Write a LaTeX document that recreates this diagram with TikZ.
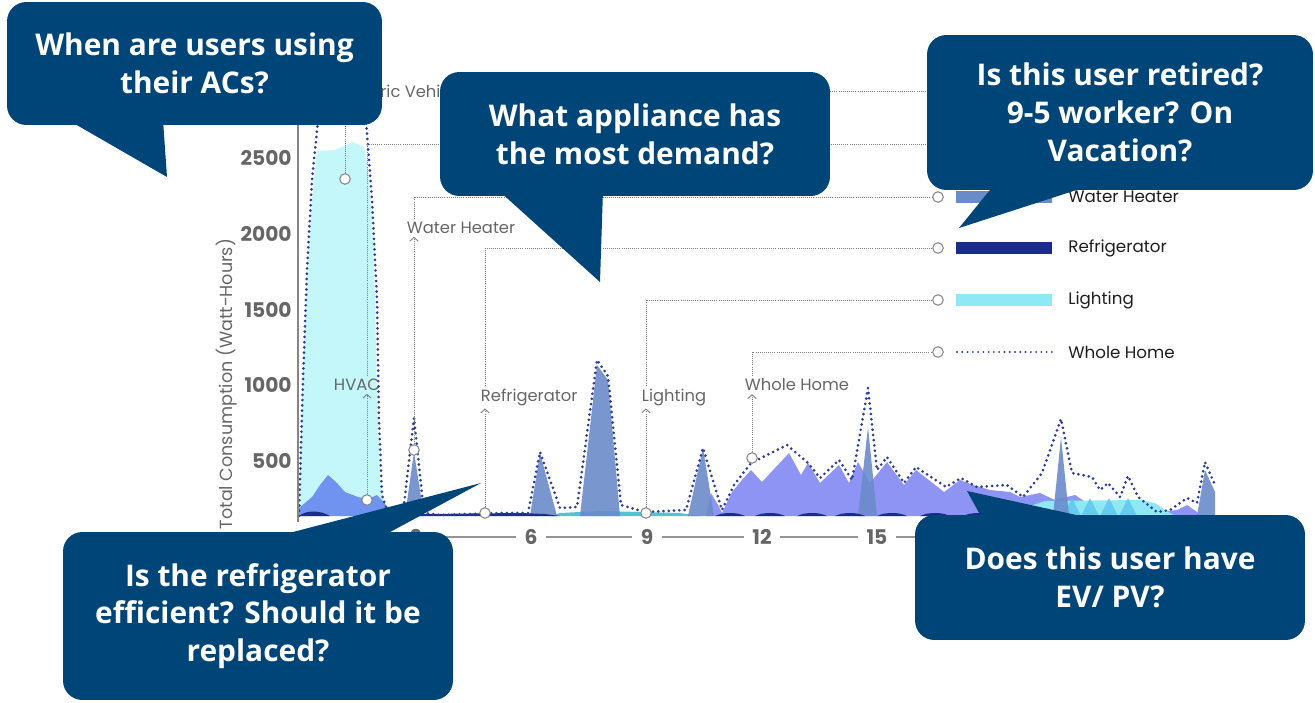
\documentclass[tikz,border=0pt]{standalone}
\usepackage{fontspec}
\setmainfont{Poppins}
\newfontfamily\bubblefont{Open Sans}
\usetikzlibrary{arrows.meta}
\definecolor{qblue}{RGB}{0,69,119}
\definecolor{evcyan}{HTML}{C4F7FA}
\definecolor{hvblue}{HTML}{6F93EE}
\definecolor{whsteel}{HTML}{6A8BCA}
\definecolor{frnavy}{HTML}{1B2D8C}
\definecolor{ltcyan}{HTML}{8FE8F6}
\definecolor{ltdeep}{HTML}{5BC5EE}
\definecolor{ltteal}{HTML}{52C4D0}
\definecolor{otlav}{HTML}{8E94F3}
\definecolor{homedot}{HTML}{2B3B9E}
\definecolor{chgrey}{HTML}{666666}
\definecolor{legblack}{HTML}{1E1E1E}
\begin{document}
\begin{tikzpicture}[x=0.02cm, y=-0.02cm, line join=round, >={Straight Barb[length=2.2pt,width=4.8pt]},
  lbl/.style={font=\fontsize{9.3}{11}\selectfont, text=chgrey, inner sep=1.5pt, anchor=west},
  leg/.style={font=\fontsize{9.5}{11}\selectfont, text=legblack, anchor=west, inner sep=0pt},
  tick/.style={font=\bfseries\fontsize{11.5}{13}\selectfont, text=chgrey},
  mk/.style={circle, draw=chgrey!80, fill=white, line width=0.6pt, inner sep=0pt, minimum size=6pt},
  leader/.style={draw=chgrey!85, line width=0.5pt, dash pattern=on 0.5pt off 0.7pt},
  homeline/.style={draw=homedot, line width=1.7pt, line cap=round, dash pattern=on 0pt off 3pt},
  bubble/.style={fill=qblue, text=white, rounded corners=11pt, align=center, inner sep=0pt,
    font=\bubblefont\bfseries\fontsize{17}{21.5}\selectfont}]
\useasboundingbox (0,0) rectangle (1315,703);
% series
\fill[evcyan] (299,516) -- (300,470) -- (303,380) -- (307,280) -- (312,200) -- (317,151) -- (335,150) -- (353,142) -- (364,147) -- (368,170) -- (372,220) -- (375,300) -- (377,400) -- (380,480) -- (384,505) -- (388,516) -- cycle;
\fill[hvblue] (299,516) -- (299,508) -- (312,497) -- (320,485) -- (328,475) -- (336,482) -- (345,492) -- (358,497) -- (368,499) -- (377,495) -- (384,502) -- (390,512) -- (392,516) -- cycle;
\fill[otlav] (706,516) -- (711,493) -- (718,505) -- (722,513) -- (732,492) -- (742,480) -- (751,470) -- (762,482) -- (789,453) -- (801,475) -- (808,463) -- (820,483) -- (839,465) -- (849,483) -- (858,462) -- (870,483) -- (887,462) -- (904,485) -- (916,470) -- (944,492) -- (960,480) -- (973,485) -- (990,490) -- (1010,492) -- (1020,497) -- (1040,493) -- (1055,500) -- (1075,495) -- (1090,505) -- (1130,505) -- (1160,512) -- (1177,510) -- (1187,505) -- (1197,512) -- (1200,516) -- cycle;
\fill[ltcyan] (1020,516) -- (1030,506) -- (1045,501) -- (1140,500) -- (1155,503) -- (1165,510) -- (1175,516) -- cycle;
\foreach \c in {1072,1090,1109,1128}
  \fill[ltdeep, opacity=0.8] (\c-9,516) -- (\c,498) -- (\c+9,516) -- cycle;
\fill[ltteal] (550,516) -- (560,513) -- (600,511) -- (640,512) -- (680,513) -- (700,516) -- cycle;
\begin{scope}[whsteel, opacity=0.9]
\fill (405,516) -- (414,452) -- (424,516) -- cycle;
\fill (530,516) -- (540,453) -- (557,516) -- cycle;
\fill (580,516) -- (597,365) -- (608,380) -- (620,516) -- cycle;
\fill (688,516) -- (703,448) -- (714,516) -- cycle;
\fill (858,516) -- (868,427) -- (877,516) -- cycle;
\fill (1053,516) -- (1061,437) -- (1069,516) -- cycle;
\fill (1197,516) -- (1205,470) -- (1215,492) -- (1215,516) -- cycle;
\end{scope}
\fill[frnavy] (299,516) .. controls (306,510) and (320,510) .. (330,516) -- cycle;
\fill[frnavy] (388,516) -- (395,514) -- (430,514) -- (470,513.5) -- (520,513) -- (545,514) -- (560,516) -- cycle;
\foreach \c in {730,770,812,850,892,935,978}
  \fill[frnavy] (\c-15,516) .. controls (\c-7,512) and (\c+7,512) .. (\c+15,516) -- cycle;
\draw[homeline] (299,516) -- (300,480) -- (303,380) -- (307,270) -- (312,180) -- (318,120) -- (330,100) -- (345,95) -- (358,100) -- (366,120) -- (372,200) -- (377,300) -- (379,420) -- (382,495) -- (387,510) -- (395,515) -- (403,513) -- (414,418) -- (424,513) -- (440,515) -- (470,514) -- (500,513) -- (528,513) -- (540,452) -- (560,508) -- (577,507) -- (597,360) -- (608,376) -- (621,505) -- (645,512) -- (686,510) -- (703,448) -- (722,510) -- (734,485) -- (751,463) -- (787,445) -- (808,463) -- (820,478) -- (839,460) -- (852,480) -- (868,388) -- (877,470) -- (887,457) -- (904,483) -- (916,467) -- (946,487) -- (961,478) -- (977,487) -- (1007,485) -- (1023,497) -- (1042,473) -- (1061,419) -- (1072,473) -- (1092,477) -- (1100,490) -- (1108,483) -- (1120,497) -- (1128,476) -- (1138,497) -- (1157,512) -- (1170,510) -- (1187,498) -- (1197,503) -- (1205,462) -- (1215,485);
% axes
\draw[chgrey!80, line width=0.6pt] (298,110) -- (298,522);
\draw[chgrey!70, line width=0.6pt] (298,537) -- (1225,537);
\foreach \t/\x in {3/416, 6/531, 9/647, 12/762, 15/877}
  \node[tick, fill=white, inner xsep=5pt, inner ysep=1pt] at (\x,537) {\t};
\foreach \v [count=\i] in {500,1000,1500,2000,2500}
  \node[tick, anchor=east, inner sep=0pt] at (292,{461-(\i-1)*75.75}) {\v};
\node[rotate=90, font=\fontsize{10}{12}\selectfont, text=chgrey] at (227,384) {Total Consumption (Watt-Hours)};
% labels and leaders
\node[mk] (evM) at (345,179) {};
\node[lbl] (evL) at (339,91) {Electric Vehicle};
\coordinate (evG) at (938,91);
\draw[leader,->] (evM) -- (evM |- evL.south);
\draw[leader] (evL.east) -- (evG);
\node[mk] (hvM) at (367,500) {};
\node[lbl] (hvL) at (331,385) {HVAC};
\coordinate (hvG) at (938,144);
\draw[leader,->] (hvM) -- (hvM |- hvL.south);
\draw[leader] (hvM |- hvL.north) |- (hvG);
\node[mk] (whM) at (414,450) {};
\node[lbl] (whL) at (404,228) {Water Heater};
\node[mk] (whG) at (938,197) {};
\draw[leader,->] (whM) -- (whM |- whL.south);
\draw[leader] (whM |- whL.north) |- (whG);
\node[mk] (frM) at (485,513) {};
\node[lbl] (frL) at (478,397) {Refrigerator};
\node[mk] (frG) at (938,248) {};
\draw[leader,->] (frM) -- (frM |- frL.south);
\draw[leader] (frM |- frL.north) |- (frG);
\node[mk] (ltM) at (646,513) {};
\node[lbl] (ltL) at (639,397) {Lighting};
\node[mk] (ltG) at (938,300) {};
\draw[leader,->] (ltM) -- (ltM |- ltL.south);
\draw[leader] (ltM |- ltL.north) |- (ltG);
\node[mk] (hmM) at (752,458) {};
\node[lbl] (hmL) at (742,385) {Whole Home};
\node[mk] (hmG) at (938,352) {};
\draw[leader,->] (hmM) -- (hmM |- hmL.south);
\draw[leader] (hmM |- hmL.north) |- (hmG);
% legend
\fill[whsteel] (956,191) rectangle (1052,203);
\fill[frnavy] (956,242) rectangle (1052,254);
\fill[ltcyan] (956,294) rectangle (1052,306);
\draw[homeline, line width=1.2pt, dash pattern=on 0pt off 3pt] (957,352) -- (1052,352);
\node[leg] at (1068,197) {Water Heater};
\node[leg] at (1068,248) {Refrigerator};
\node[leg] at (1068,300) {Lighting};
\node[leg] at (1068,352) {Whole Home};
% questions
\node[bubble, minimum width=7.5cm, minimum height=2.46cm] (qAC) at (194.5,63.5) {When are users using\\their ACs?};
\fill[qblue] (68,120) -- (163,120) -- (167,177) -- cycle;
\node[bubble, minimum width=7.8cm, minimum height=2.48cm] (qDemand) at (635,134) {What appliance has\\the most demand?};
\fill[qblue] (498,190) -- (603,190) -- (600,282) -- cycle;
\node[bubble, minimum width=7.72cm, minimum height=3.1cm] (qRetired) at (1120,112.5) {Is this user retired?\\9-5 worker? On\\Vacation?};
\fill[qblue] (994,185) -- (1092,185) -- (959,228) -- cycle;
\node[bubble, minimum width=7.8cm, minimum height=3.36cm] (qFridge) at (258,616) {Is the refrigerator\\efficient? Should it be\\replaced?};
\fill[qblue] (270,538) -- (379,538) -- (481,483) -- cycle;
\node[bubble, minimum width=7.8cm, minimum height=2.5cm] (qEV) at (1110,577.5) {Does this user have\\EV/ PV?};
\fill[qblue] (983,520) -- (1099,520) -- (967,491) -- cycle;
\end{tikzpicture}
\end{document}
